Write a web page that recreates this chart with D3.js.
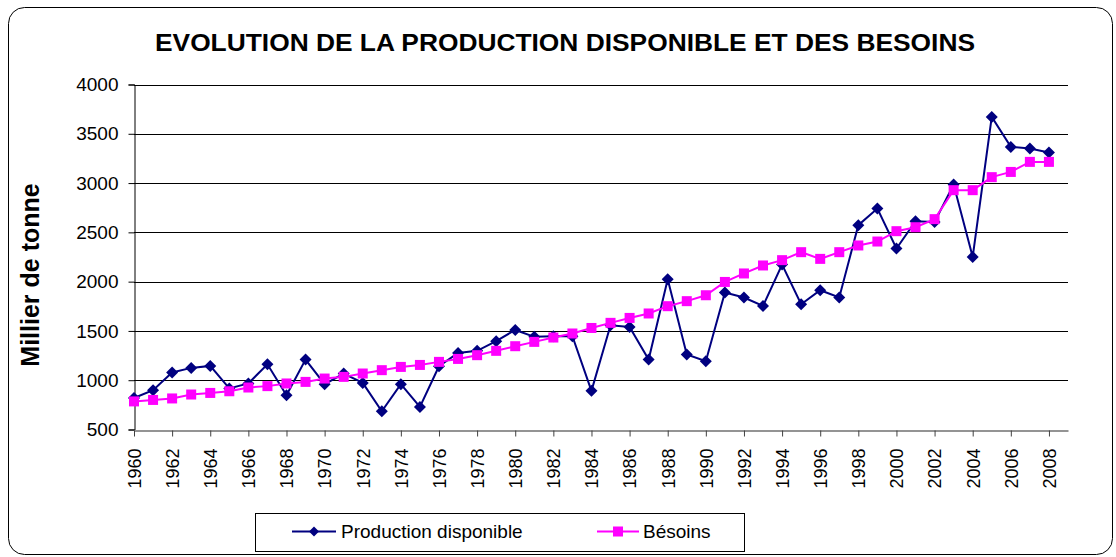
<!DOCTYPE html>
<html>
<head>
<meta charset="utf-8">
<script src="https://cdn.jsdelivr.net/npm/d3@7"></script>
<style>
  html, body { margin: 0; padding: 0; background: #fff; }
  svg { display: block; font-family: "Liberation Sans", Arial, sans-serif; }
</style>
</head>
<body>
<svg id="chart" width="1116" height="557"></svg>
<script>
const years = d3.range(1960, 2009);
const production = [820, 899, 1078, 1125, 1145, 916, 967, 1162, 848, 1210,
  960, 1068, 973, 685, 960, 729, 1142, 1277, 1298, 1396,
  1510, 1440, 1446, 1446, 892, 1558, 1541, 1210, 2025, 1261,
  1193, 1890, 1839, 1754, 2174, 1771, 1913, 1839, 2573, 2742,
  2336, 2613, 2606, 2985, 2251, 3671, 3367, 3350, 3310];
const besoins = [785, 800, 815, 855, 871, 888, 926, 940, 967, 983,
  1017, 1034, 1068, 1102, 1135, 1155, 1186, 1216, 1254, 1298,
  1345, 1389, 1433, 1474, 1530, 1582, 1632, 1677, 1751, 1802,
  1862, 1997, 2083, 2164, 2218, 2299, 2231, 2299, 2367, 2407,
  2512, 2552, 2634, 2928, 2928, 3060, 3113, 3215, 3215];
const yTicks = [500, 1000, 1500, 2000, 2500, 3000, 3500, 4000];
const xTicks = d3.range(1960, 2009, 2);
const titleText = "EVOLUTION DE LA PRODUCTION DISPONIBLE ET DES BESOINS";
const yTitle = "Millier de tonne";
const seriesNames = ["Production disponible", "Bésoins"];
const colors = ["#000080", "#FF00FF"];

const svg = d3.select("#chart");

// outer chart border
svg.append("rect")
  .attr("x", 8.5).attr("y", 7.5).attr("width", 1104).attr("height", 547)
  .attr("rx", 16).attr("ry", 16)
  .attr("fill", "#fff").attr("stroke", "#000").attr("stroke-width", 1);

const x = d3.scaleLinear().domain([1960, 2009]).range([134, 1068]);
const y = d3.scaleLinear().domain([500, 4000]).range([429.5, 84.5]);

// gridlines
svg.append("g")
  .selectAll("line").data(yTicks.filter(d => d > 500)).join("line")
  .attr("x1", 134).attr("x2", 1068)
  .attr("y1", d => Math.round(y(d)) + 0.5).attr("y2", d => Math.round(y(d)) + 0.5)
  .attr("stroke", "#000").attr("stroke-width", 1);

// y axis
const yAxis = svg.append("g")
  .attr("transform", "translate(134.5,0)")
  .call(d3.axisLeft(y).tickValues(yTicks).tickSize(6).tickPadding(10).tickFormat(d3.format("d")));
yAxis.select(".domain").attr("stroke", "#000");
yAxis.selectAll(".tick line").attr("stroke", "#000");
yAxis.selectAll(".tick text")
  .attr("font-size", 19).attr("fill", "#000")
  .attr("font-family", "'Liberation Sans', Arial, sans-serif");

// x axis
const xAxis = svg.append("g")
  .attr("transform", "translate(0," + (Math.round(y(500)) + 0.5) + ")")
  .call(d3.axisBottom(x).tickValues(xTicks).tickSize(6).tickSizeOuter(0).tickFormat(d3.format("d")));
xAxis.select(".domain").attr("stroke", "#707070").attr("stroke-width", 1.5);
xAxis.selectAll(".tick line").attr("stroke", "#404040");
xAxis.selectAll(".tick text")
  .attr("font-size", 18).attr("fill", "#000")
  .attr("font-family", "'Liberation Sans', Arial, sans-serif")
  .attr("text-anchor", "end")
  .attr("dy", null)
  .attr("transform", "rotate(-90)")
  .attr("x", -18).attr("y", 0).attr("dy", "0.35em");

// series
const sets = [production, besoins];
sets.forEach((vals, i) => {
  const pts = years.map((yr, k) => [yr, vals[k]]);
  const g = svg.append("g");
  g.append("path")
    .datum(pts)
    .attr("fill", "none")
    .attr("stroke", colors[i])
    .attr("stroke-width", 2)
    .attr("d", d3.line().x(d => x(d[0])).y(d => y(d[1])));
  if (i === 0) {
    g.selectAll("path.m").data(pts).join("path")
      .attr("class", "m")
      .attr("transform", d => `translate(${x(d[0])},${y(d[1])})`)
      .attr("d", "M0,-6L6,0L0,6L-6,0Z")
      .attr("fill", colors[i]);
  } else {
    g.selectAll("rect.m").data(pts).join("rect")
      .attr("class", "m")
      .attr("x", d => x(d[0]) - 5).attr("y", d => y(d[1]) - 5)
      .attr("width", 10).attr("height", 10)
      .attr("fill", colors[i]);
  }
});

// title
svg.append("text")
  .attr("x", 565).attr("y", 51)
  .attr("text-anchor", "middle")
  .attr("font-size", 24).attr("font-weight", "bold")
  .attr("textLength", 820).attr("lengthAdjust", "spacingAndGlyphs")
  .text(titleText);

// y title
svg.append("text")
  .attr("transform", "translate(39,275) rotate(-90)")
  .attr("text-anchor", "middle")
  .attr("font-size", 25).attr("font-weight", "bold")
  .text(yTitle);

// legend
const lg = svg.append("g");
lg.append("rect")
  .attr("x", 255.5).attr("y", 513.5).attr("width", 489).attr("height", 38)
  .attr("fill", "#fff").attr("stroke", "#000").attr("stroke-width", 1);
const legendItems = [
  {name: seriesNames[0], color: colors[0], x1: 292, x2: 336, tx: 341, shape: "diamond"},
  {name: seriesNames[1], color: colors[1], x1: 597, x2: 639, tx: 643, shape: "square"}
];
legendItems.forEach(it => {
  const cy = 531.5;
  lg.append("line").attr("x1", it.x1).attr("x2", it.x2).attr("y1", cy).attr("y2", cy)
    .attr("stroke", it.color).attr("stroke-width", 2);
  const cx = (it.x1 + it.x2) / 2;
  if (it.shape === "diamond") {
    lg.append("path").attr("transform", `translate(${cx},${cy})`)
      .attr("d", "M0,-5L5,0L0,5L-5,0Z").attr("fill", it.color);
  } else {
    lg.append("rect").attr("x", cx - 5).attr("y", cy - 5).attr("width", 10).attr("height", 10)
      .attr("fill", it.color);
  }
  lg.append("text").attr("x", it.tx).attr("y", 538)
    .attr("font-size", 19).attr("fill", "#000").text(it.name);
});
</script>
</body>
</html>
